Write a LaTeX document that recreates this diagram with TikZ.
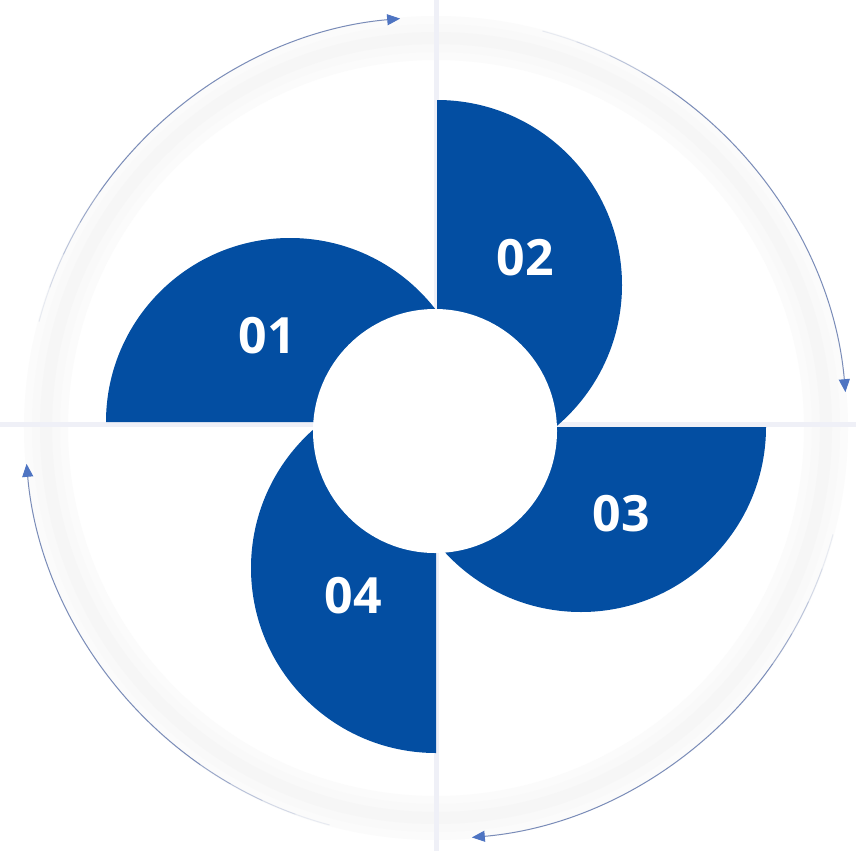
\documentclass[tikz,border=0pt]{standalone}
\usepackage{fontspec}
\newfontfamily\labelfont{Open Sans}
\usetikzlibrary{arrows.meta}
\definecolor{petal}{HTML}{034EA2}
\definecolor{arcline}{HTML}{7A8CB8}
\definecolor{arctip}{HTML}{4E74C2}
\definecolor{faint}{HTML}{EFF0F7}
\tikzset{
  petalshape/.style={fill=petal, draw=none},
  numlabel/.style={text=white, font=\labelfont\bfseries\fontsize{50}{50}\selectfont, inner sep=0pt},
  cycarrow/.style={draw=arcline, line width=1pt, -{Triangle[length=13pt,width=11pt,color=arctip,fill=arctip]}},
  cycfade/.style={draw=arcline, line width=1pt},
  ringshade/.style={draw=black!#1, fill=none}
}
\begin{document}
\begin{tikzpicture}[x=1pt,y=-1pt]
\useasboundingbox (0,0) rectangle (856,851);
\fill[white] (0,0) rectangle (856,851);
% faint ring (soft band)
\draw[ringshade=1.5, line width=44pt] (436,428) circle[radius=390];
\draw[ringshade=2.5, line width=28pt] (436,428) circle[radius=390];
\draw[ringshade=3.5, line width=12pt] (436,428) circle[radius=390];
% faint cross lines
\draw[faint, line width=5pt] (436,0) -- (436,851);
\draw[faint, line width=5pt] (0,424) -- (856,424);
% petals
\path[petalshape] (106,422) arc[start angle=180, end angle=360, radius=184] -- cycle;
\path[petalshape] (437,100) arc[start angle=-90, end angle=90, radius=185] -- cycle;
\path[petalshape] (766,427) arc[start angle=0, end angle=180, radius=185] -- cycle;
\path[petalshape] (436,753) arc[start angle=90, end angle=270, radius=185] -- cycle;
% centre disc
\fill[white] (435,431) circle[radius=122];
% labels
\node[numlabel] (n01) at (267,336) {01};
\node[numlabel] (n02) at (525,258) {02};
\node[numlabel] (n03) at (621,514) {03};
\node[numlabel] (n04) at (353,596) {04};
% cycle arrows (math angles a -> b, clockwise); coordinate angle = -math angle
\foreach \s in {165,75,-15,255}{
  \foreach \k/\op in {0/0.15,1/0.3,2/0.5,3/0.75}{
    \draw[cycfade, opacity=\op] ({436+411*cos(-\s+5*\k)},{428+411*sin(-\s+5*\k)})
      arc[start angle={-\s+5*\k}, end angle={-\s+5*\k+5}, radius=411];
  }
  \draw[cycarrow] ({436+411*cos(-\s+20)},{428+411*sin(-\s+20)})
      arc[start angle={-\s+20}, end angle={-\s+70}, radius=411];
}
\end{tikzpicture}
\end{document}
